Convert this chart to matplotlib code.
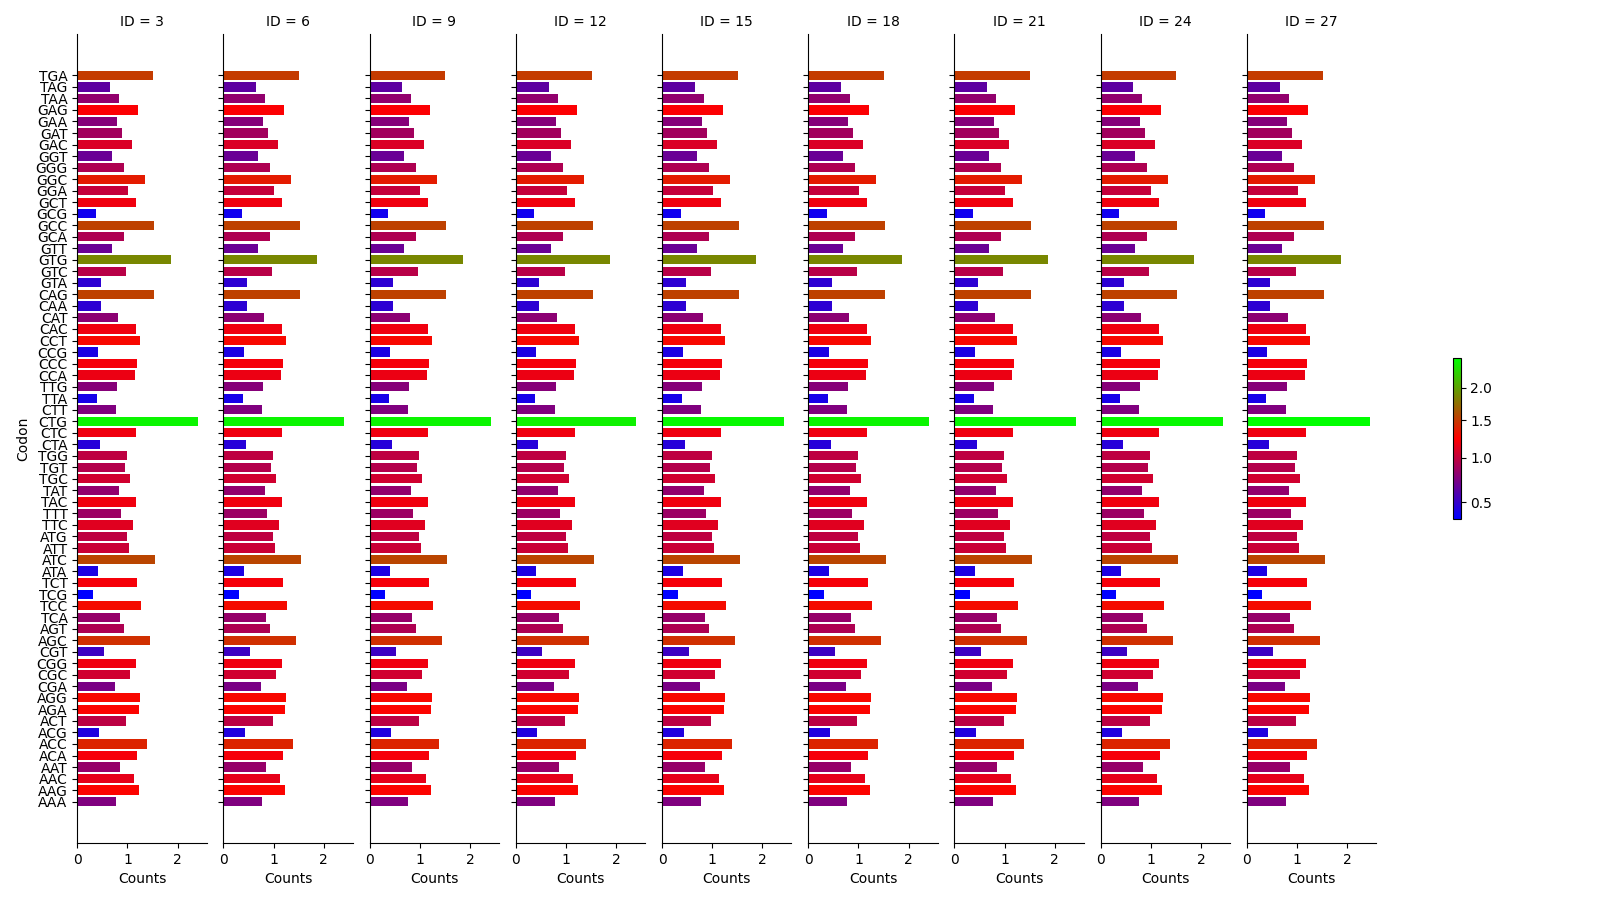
import numpy as np
import matplotlib
matplotlib.use("Agg")
import matplotlib.pyplot as plt
from matplotlib.colors import LinearSegmentedColormap, TwoSlopeNorm
from matplotlib.cm import ScalarMappable

# Codons from bottom to top
codons = ["AAA", "AAG", "AAC", "AAT", "ACA", "ACC", "ACG", "ACT", "AGA", "AGG",
          "CGA", "CGC", "CGG", "CGT", "AGC", "AGT", "TCA", "TCC", "TCG", "TCT",
          "ATA", "ATC", "ATT", "ATG", "TTC", "TTT", "TAC", "TAT", "TGC", "TGT",
          "TGG", "CTA", "CTC", "CTG", "CTT", "TTA", "TTG", "CCA", "CCC", "CCG",
          "CCT", "CAC", "CAT", "CAA", "CAG", "GTA", "GTC", "GTG", "GTT", "GCA",
          "GCC", "GCG", "GCT", "GGA", "GGC", "GGG", "GGT", "GAC", "GAT", "GAA",
          "GAG", "TAA", "TAG", "TGA"]

counts = [0.77, 1.23, 1.13, 0.85, 1.19, 1.39, 0.43, 0.98, 1.23, 1.25,
          0.75, 1.05, 1.17, 0.53, 1.45, 0.93, 0.85, 1.27, 0.31, 1.19,
          0.41, 1.55, 1.03, 0.99, 1.11, 0.87, 1.17, 0.83, 1.05, 0.95,
          0.99, 0.45, 1.17, 2.41, 0.77, 0.39, 0.79, 1.15, 1.19, 0.41,
          1.25, 1.17, 0.81, 0.47, 1.53, 0.47, 0.97, 1.87, 0.69, 0.93,
          1.53, 0.37, 1.17, 1.01, 1.35, 0.93, 0.69, 1.09, 0.89, 0.79,
          1.21, 0.83, 0.65, 1.51]

ids = [3, 6, 9, 12, 15, 18, 21, 24, 27]
ctg_by_id = [2.41, 2.41, 2.41, 2.39, 2.43, 2.41, 2.43, 2.43, 2.46]

cbar_ticks = [0.5, 1.0, 1.5, 2.0]

panel_values = []
for v in ctg_by_id:
    vals = list(counts)
    vals[codons.index("CTG")] = v
    panel_values.append(np.array(vals))

all_vals = np.concatenate(panel_values)
cmap = LinearSegmentedColormap.from_list("brg_custom", ["blue", "red", "lime"])
norm = TwoSlopeNorm(vmin=all_vals.min(), vcenter=1.22, vmax=all_vals.max())

W, H = 1620, 900
fig = plt.figure(figsize=(W / 100, H / 100), dpi=100)

ax0 = None
for i, (id_, vals) in enumerate(zip(ids, panel_values)):
    left = (77.3 + i * 146.2) / W
    rect = [left, 57 / H, 129.4 / W, 809 / H]
    ax = fig.add_axes(rect, sharey=ax0) if ax0 is not None else fig.add_axes(rect)
    if ax0 is None:
        ax0 = ax
    ax.barh(codons, vals, height=0.8, color=cmap(norm(vals)))
    ax.set_xlim(0, 2.58)
    ax.set_xticks([0, 1, 2])
    ax.set_title(f"ID = {id_}", fontsize=10)
    ax.set_xlabel("Counts")
    ax.spines["top"].set_visible(False)
    ax.spines["right"].set_visible(False)
    if i == 0:
        ax.set_ylabel("Codon")
    else:
        ax.tick_params(labelleft=False)

cax = fig.add_axes([1452.5 / W, (H - 519) / H, 8 / W, 161 / H])
sm = ScalarMappable(norm=norm, cmap=cmap)
cb = fig.colorbar(sm, cax=cax)
cb.set_ticks(cbar_ticks)

fig.savefig("out.png", dpi=100)
